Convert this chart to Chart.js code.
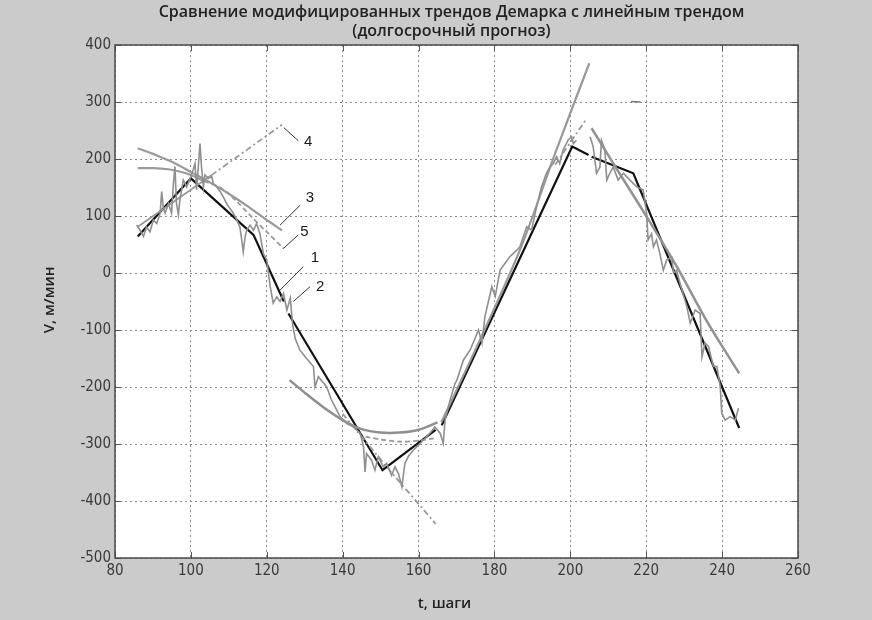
<!DOCTYPE html>
<html>
<head>
<meta charset="utf-8">
<script src="https://cdn.jsdelivr.net/npm/chart.js@4.4.0/dist/chart.umd.min.js"></script>
<style>
  html, body { margin: 0; padding: 0; background: #cbcbcb; }
  #wrap { width: 872px; height: 620px; position: relative; }
</style>
</head>
<body>
<div id="wrap"><canvas id="chart"></canvas></div>
<script>
// Сырые данные (шумный ряд)
const noiseT = [85.7, 86.6, 87.5, 88.3, 89.2, 90.1, 91.0, 91.9, 92.3, 92.7, 93.2, 94.1, 94.9, 95.4, 95.8, 96.2, 96.7, 97.1, 98.0, 98.9,
  99.8, 100.6, 101.1, 101.5, 101.9, 102.4, 102.8, 103.3, 103.7, 104.6, 105.5, 105.9, 106.8, 107.7, 108.5, 109.4, 110.3, 111.2, 112.1, 112.9,
  113.4, 113.8, 114.3, 114.7, 115.6, 116.5, 117.3, 118.2, 119.1, 120.0, 120.9, 121.7, 122.6, 123.5, 124.4, 125.3, 126.2, 126.8, 127.5, 128.7,
  130.5, 132.3, 132.7, 133.6, 135.8, 137.0, 138.4, 139.3, 141.1, 142.8, 144.6, 145.5, 145.9, 146.3, 147.6, 148.5, 149.4, 150.7, 151.6, 152.9,
  153.8, 154.7, 155.6, 156.4, 157.3, 158.6, 159.5, 161.3, 163.0, 164.3, 165.7, 166.5, 167.0, 168.3, 169.6, 170.1, 171.8, 173.6, 175.8, 176.7,
  177.5, 178.9, 179.3, 180.2, 181.5, 182.8, 184.1, 185.9, 186.7, 188.5, 189.8, 191.1, 192.4, 193.7, 194.6, 195.5, 196.4, 197.2, 198.1, 199.4,
  200.3, 200.8, 201.6, 203.4, 205.2, 206.0, 206.9, 207.8, 208.2, 209.1, 209.6, 210.4, 211.3, 212.6, 214.0, 215.7, 217.5, 219.2, 220.1, 220.5,
  221.4, 221.9, 222.7, 223.6, 224.5, 225.4, 226.7, 227.2, 228.0, 228.9, 230.7, 231.6, 232.9, 234.2, 234.7, 235.5, 236.4, 237.7, 238.6, 239.5,
  239.9, 240.8, 242.1, 243.5, 244.3];
const noiseV = [84, 75, 64, 81, 72, 93, 87, 105, 143, 116, 105, 122, 105, 157, 187, 122, 102, 128, 163, 151,
  166, 181, 192, 146, 181, 227, 186, 151, 172, 166, 169, 157, 151, 143, 134, 122, 113, 105, 93, 81,
  58, 37, 64, 75, 84, 75, 87, 69, 34, 23, -24, -53, -42, -50, -36, -65, -44, -90, -115, -135,
  -150, -164, -200, -182, -200, -222, -240, -252, -264, -270, -281, -305, -349, -317, -328, -346, -322, -340, -334, -355,
  -340, -352, -375, -334, -322, -311, -305, -293, -281, -270, -281, -299, -258, -223, -194, -188, -153, -135, -100, -123,
  -76, -36, -24, -41, 5, 17, 29, 40, 46, 81, 75, 116, 151, 175, 186, 192, 204, 192, 216, 233,
  239, 227, 233, null, 239, 222, 175, 186, 233, 216, 163, 175, 186, 163, 175, 163, 151, 146, 105, 58,
  69, 46, 58, 34, 5, 23, 28, 0, 5, -18, -59, -88, -65, -71, -147, -123, -129, -164, -164, -199,
  -246, -258, -252, -258, -237];

// Кусочно-линейный тренд (чёрная линия)
const linT = [86, 100, 116.5, 124.5, 125.1, 125.7, 150.5, 164.5, 165.3, 166.1, 200.5, 204.8, 205.2, 205.6, 216.6, 244.5];
const linV = [64, 166, 67, -50, null, -71, -346, -275, null, -267, 222, 207, null, 204, 175, -272];

// Модифицированные тренды
const tr3T = [86, 90, 95, 100, 105, 110, 115, 120, 124];
const tr3V = [219, 209, 195, 177, 159, 139, 117, 93, 75];
const tr5aT = [86, 90, 94, 97, 100, 103.5];
const tr5aV = [184, 184, 182, 178, 172, 161];
const tr5bT = [103.5, 108, 112, 116.5, 120, 124.4];
const tr5bV = [161, 149, 126, 95, 72, 43];
const tr4aT = [86, 105.5];
const tr4aV = [81, 172];
const tr4bT = [105.5, 124];
const tr4bV = [172, 260];

const troughT = [126, 130, 135, 140, 145, 150, 155, 160, 165];
const troughV = [-188, -210, -236, -258, -274, -280, -280, -275, -262];
const troughDashT = [146, 150, 155, 160, 164];
const troughDashV = [-287, -292, -296, -294, -290];
const fallDashT = [140, 152, 164.5];
const fallDashV = [-247, -343, -440];

const riseT = [166, 176, 187, 196, 205];
const riseV = [-262, -120, 45, 210, 368];
const riseDashT = [196, 204.3];
const riseDashV = [190, 271];
const dropT = [205.6, 212, 220, 228, 236, 244.5];
const dropV = [254, 185, 100, 12, -85, -176];
const stubT = [216, 218.5];
const stubV = [301, 300];

// Подписи кривых и выноски (в единицах осей)
const markNames = ['4', '3', '5', '1', '2'];
const markT = [130.9, 131.4, 129.9, 132.7, 134.1];
const markV = [230, 131, 72, 26, -25];
const leadT0 = [124.5, 123.5, 124.4, 123.5, 127.0];
const leadV0 = [255, 84, 43, -30, -50];
const leadT1 = [128.3, 128.8, 128.3, 129.6, 131.4];
const leadV1 = [232, 119, 67, 11, -24];

const xTicks = { min: 80, max: 260, step: 20 };
const yTicks = { min: -500, max: 400, step: 100 };

const titleLines = ['Сравнение модифицированных трендов Демарка с линейным трендом', '(долгосрочный прогноз)'];
const xTitle = 't, шаги';
const yTitle = 'V, м/мин';

const tickFont = '"Liberation Sans Narrow", "DejaVu Sans Condensed", "Liberation Sans"';

function pts(t, v) {
  return t.map(function (x, i) { return { x: x, y: v[i] }; });
}

function line(t, v, color, width, dash, tension) {
  return {
    data: pts(t, v),
    borderColor: color,
    borderWidth: width,
    borderDash: dash || [],
    pointRadius: 0,
    tension: tension === undefined ? 0.3 : tension,
    fill: false,
  };
}

const frame = {
  id: 'frame',
  beforeDraw(chart) {
    const { ctx, chartArea: a } = chart;
    ctx.save();
    ctx.fillStyle = '#cbcbcb';
    ctx.fillRect(0, 0, chart.width, chart.height);
    ctx.fillStyle = '#ffffff';
    ctx.fillRect(a.left, a.top, a.right - a.left, a.bottom - a.top);
    ctx.restore();
  },
  afterDatasetsDraw(chart) {
    const { ctx, scales: { x, y } } = chart;
    ctx.save();
    ctx.strokeStyle = '#333';
    ctx.lineWidth = 1;
    ctx.fillStyle = '#1a1a1a';
    ctx.font = '15px "Liberation Sans"';
    ctx.textAlign = 'center';
    ctx.textBaseline = 'middle';
    markNames.forEach(function (name, i) {
      ctx.beginPath();
      ctx.moveTo(x.getPixelForValue(leadT0[i]), y.getPixelForValue(leadV0[i]));
      ctx.lineTo(x.getPixelForValue(leadT1[i]), y.getPixelForValue(leadV1[i]));
      ctx.stroke();
      ctx.fillText(name, x.getPixelForValue(markT[i]), y.getPixelForValue(markV[i]));
    });
    ctx.restore();
  },
  afterDraw(chart) {
    const { ctx, chartArea: a, scales: { x, y } } = chart;
    ctx.save();
    // внутренние засечки как в MATLAB
    ctx.strokeStyle = '#555';
    ctx.lineWidth = 1;
    ctx.beginPath();
    x.ticks.forEach(function (t) {
      const px = Math.round(x.getPixelForValue(t.value)) + 0.5;
      ctx.moveTo(px, a.bottom); ctx.lineTo(px, a.bottom - 6);
      ctx.moveTo(px, a.top); ctx.lineTo(px, a.top + 6);
    });
    y.ticks.forEach(function (t) {
      const py = Math.round(y.getPixelForValue(t.value)) + 0.5;
      ctx.moveTo(a.left, py); ctx.lineTo(a.left + 6, py);
      ctx.moveTo(a.right, py); ctx.lineTo(a.right - 6, py);
    });
    ctx.stroke();
    ctx.strokeStyle = '#4a4a4a';
    ctx.lineWidth = 1.5;
    ctx.strokeRect(a.left, a.top, a.right - a.left, a.bottom - a.top);

    // заголовок и подписи осей
    ctx.fillStyle = '#222';
    ctx.textAlign = 'center';
    ctx.textBaseline = 'middle';
    ctx.font = '600 16px "Open Sans"';
    const cx = (a.left + a.right) / 2;
    ctx.fillText(titleLines[0], cx - 5, 12);
    ctx.fillText(titleLines[1], cx - 5, 31);
    ctx.font = '600 15px "Open Sans"';
    ctx.fillText(xTitle, cx - 12, 604);
    ctx.translate(50, 300);
    ctx.rotate(-Math.PI / 2);
    ctx.fillText(yTitle, 0, 0);
    ctx.restore();
  },
};

const ctx = document.getElementById('chart').getContext('2d');
const chart = new Chart(ctx, {
  type: 'line',
  data: {
    datasets: [
      line(noiseT, noiseV, '#8f8f8f', 1.6, [], 0),
      line(tr3T, tr3V, '#9a9a9a', 2.2),
      line(tr5aT, tr5aV, '#9a9a9a', 2.2),
      line(tr5bT, tr5bV, '#9a9a9a', 1.8, [5, 3]),
      line(tr4aT, tr4aV, '#9a9a9a', 1.8),
      line(tr4bT, tr4bV, '#9a9a9a', 1.8, [6, 3, 2, 3]),
      line(troughT, troughV, '#8f8f8f', 2.5),
      line(troughDashT, troughDashV, '#999', 1.8, [5, 3]),
      line(fallDashT, fallDashV, '#9a9a9a', 1.8, [6, 3, 2, 3]),
      line(riseT, riseV, '#999', 2.2),
      line(riseDashT, riseDashV, '#999', 1.8, [6, 3, 2, 3]),
      line(dropT, dropV, '#929292', 2.5),
      line(stubT, stubV, '#777', 1.5),
      line(linT, linV, '#111111', 2.2, [], 0),
    ],
  },
  options: {
    responsive: true,
    maintainAspectRatio: false,
    animation: false,
    layout: { padding: { left: 0, top: 45, right: 74, bottom: 0 } },
    plugins: {
      legend: { display: false },
      title: { display: false },
      tooltip: { enabled: false },
    },
    scales: {
      x: {
        type: 'linear',
        min: xTicks.min,
        max: xTicks.max,
        afterFit: function (scale) { scale.height = 62; },
        grid: { color: '#8c8c8c', lineWidth: 1, drawTicks: false },
        border: { display: false, dash: [2, 3] },
        ticks: {
          stepSize: xTicks.step,
          padding: 4,
          color: '#3a3a3a',
          font: { family: tickFont, size: 15 },
          maxRotation: 0,
        },
      },
      y: {
        type: 'linear',
        min: yTicks.min,
        max: yTicks.max,
        afterFit: function (scale) { scale.width = 115; },
        grid: { color: '#8c8c8c', lineWidth: 1, drawTicks: false },
        border: { display: false, dash: [2, 3] },
        ticks: {
          stepSize: yTicks.step,
          padding: 4,
          color: '#3a3a3a',
          font: { family: tickFont, size: 15 },
        },
      },
    },
  },
  plugins: [frame],
});
</script>
</body>
</html>
